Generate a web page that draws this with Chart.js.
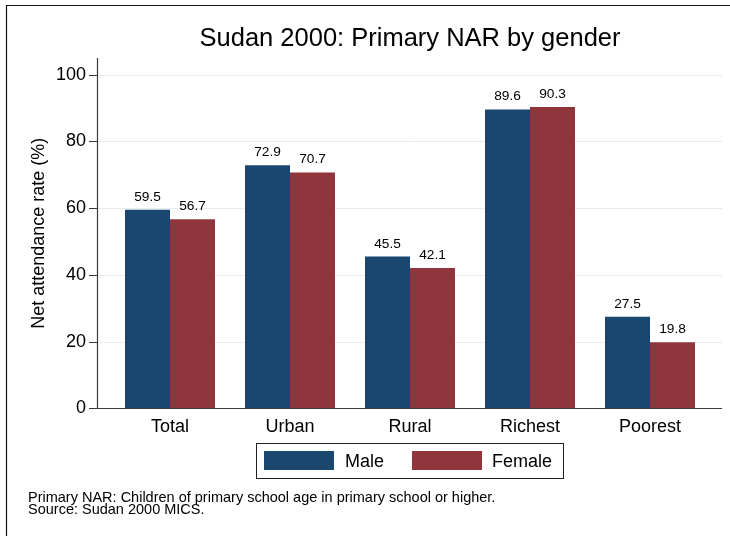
<!DOCTYPE html>
<html>
<head>
<meta charset="utf-8">
<title>Sudan 2000: Primary NAR by gender</title>
<script src="https://cdn.jsdelivr.net/npm/chart.js@4"></script>
<style>
  body { margin: 0; background: #fff; }
  #wrap { position: relative; width: 730px; height: 536px; }
  #legend {
    position: absolute; left: 256px; top: 443px; width: 306px; height: 34px;
    border: 1px solid #222; box-sizing: content-box;
    font-family: 'Liberation Sans', Arial, Helvetica, sans-serif; font-size: 18px; color: #000;
  }
  #legend .sw { position: absolute; top: 7px; width: 70px; height: 19px; }
  #legend .lb { position: absolute; top: 8px; line-height: 19px; white-space: nowrap; }
</style>
</head>
<body>
<div id="wrap">
  <canvas id="chart" width="730" height="536"></canvas>
  <div id="legend"></div>
</div>
<script>
const categories = ["Total", "Urban", "Rural", "Richest", "Poorest"]
const maleValues = [59.5, 72.9, 45.5, 89.6, 27.5]
const femaleValues = [56.7, 70.7, 42.1, 90.3, 19.8]
const yTickValues = [0, 20, 40, 60, 80, 100]
const notes = [
  "Primary NAR: Children of primary school age in primary school or higher.",
  "Source: Sudan 2000 MICS.",
]

const NAVY = "#1a476f"
const MAROON = "#90353b"
const FONT = "'Liberation Sans', Arial, Helvetica, sans-serif"

Chart.defaults.font.family = FONT
Chart.defaults.color = "#000"

// stata-like frame, axes, grid and value labels
const stataLook = {
  id: "stataLook",
  beforeDatasetsDraw(chart) {
    const ctx = chart.ctx
    const y = chart.scales.y
    const left = chart.chartArea.left - 13
    const right = chart.chartArea.right + 12
    ctx.save()
    ctx.strokeStyle = "#e3ecee"
    ctx.lineWidth = 1
    yTickValues.forEach((v) => {
      if (v === 0) return
      const py = Math.round(y.getPixelForValue(v)) + 0.5
      ctx.beginPath()
      ctx.moveTo(left, py)
      ctx.lineTo(right, py)
      ctx.stroke()
    })
    ctx.restore()
  },
  afterDatasetsDraw(chart) {
    const ctx = chart.ctx
    const y = chart.scales.y
    const left = chart.chartArea.left - 13
    const right = chart.chartArea.right + 12
    const bottom = Math.round(y.getPixelForValue(0)) + 0.5
    ctx.save()
    ctx.strokeStyle = "#3a3a3a"
    ctx.lineWidth = 1.2
    ctx.beginPath()
    ctx.moveTo(left + 0.5, chart.chartArea.top)
    ctx.lineTo(left + 0.5, bottom)
    ctx.moveTo(left, bottom)
    ctx.lineTo(right, bottom)
    yTickValues.forEach((v) => {
      const py = Math.round(y.getPixelForValue(v)) + 0.5
      ctx.moveTo(left - 8, py)
      ctx.lineTo(left, py)
    })
    ctx.stroke()

    // value labels above bars
    ctx.fillStyle = "#000"
    ctx.font = "13.7px " + FONT
    ctx.textAlign = "center"
    ctx.textBaseline = "alphabetic"
    chart.data.datasets.forEach((ds, i) => {
      chart.getDatasetMeta(i).data.forEach((bar, j) => {
        ctx.fillText(ds.data[j].toFixed(1), bar.x, bar.y - 9)
      })
    })
    ctx.restore()
  },
  afterDraw(chart) {
    // outer frame (only top and left edges are visible)
    const ctx = chart.ctx
    ctx.save()
    ctx.strokeStyle = "#111"
    ctx.lineWidth = 1.2
    ctx.beginPath()
    ctx.moveTo(6.5, chart.height)
    ctx.lineTo(6.5, 5.5)
    ctx.lineTo(chart.width, 5.5)
    ctx.stroke()
    ctx.restore()
  },
}

const chart = new Chart(document.getElementById("chart"), {
  type: "bar",
  data: {
    labels: categories,
    datasets: [
      { label: "Male", data: maleValues, backgroundColor: NAVY, borderWidth: 0 },
      { label: "Female", data: femaleValues, backgroundColor: MAROON, borderWidth: 0 },
    ],
  },
  options: {
    responsive: false,
    animation: false,
    events: [],
    layout: { padding: { left: 28, right: 20, top: 0, bottom: 0 } },
    datasets: {
      bar: { categoryPercentage: 0.75, barPercentage: 1 },
    },
    scales: {
      x: {
        grid: { display: false, drawTicks: false },
        border: { display: false },
        ticks: { font: { size: 18 }, color: "#000", padding: 7.5, maxRotation: 0, autoSkip: false },
      },
      y: {
        min: 0,
        max: 105,
        grid: { display: false, drawTicks: false },
        border: { display: false },
        ticks: { font: { size: 18 }, color: "#000", padding: 24, stepSize: 20 },
        afterBuildTicks: (scale) => { scale.ticks = yTickValues.map((v) => ({ value: v })) },
        afterFit: (scale) => { scale.width = 82 },
        title: {
          display: true,
          text: "Net attendance rate (%)",
          font: { size: 18 },
          color: "#000",
          padding: 0,
        },
      },
    },
    plugins: {
      title: {
        display: true,
        text: "Sudan 2000: Primary NAR by gender",
        fullSize: false,
        font: { size: 25.5, weight: "normal" },
        color: "#000",
        padding: { top: 23.7, bottom: 3.7 },
      },
      legend: { display: false },
      subtitle: {
        display: true,
        position: "bottom",
        align: "start",
        text: notes,
        font: { size: 14.5, weight: "normal", lineHeight: 0.86 },
        color: "#000",
        padding: { top: 46.6, bottom: 19.4 },
      },
      tooltip: { enabled: false },
    },
  },
  plugins: [stataLook],
})

// boxed legend like the stata one
const legendEl = document.getElementById("legend")
const swatchLeft = [7, 155]
const labelLeft = [88, 235]
chart.data.datasets.forEach((ds, i) => {
  const sw = document.createElement("div")
  sw.className = "sw"
  sw.style.left = swatchLeft[i] + "px"
  sw.style.background = ds.backgroundColor
  const lb = document.createElement("div")
  lb.className = "lb"
  lb.style.left = labelLeft[i] + "px"
  lb.textContent = ds.label
  legendEl.appendChild(sw)
  legendEl.appendChild(lb)
})
</script>
</body>
</html>
